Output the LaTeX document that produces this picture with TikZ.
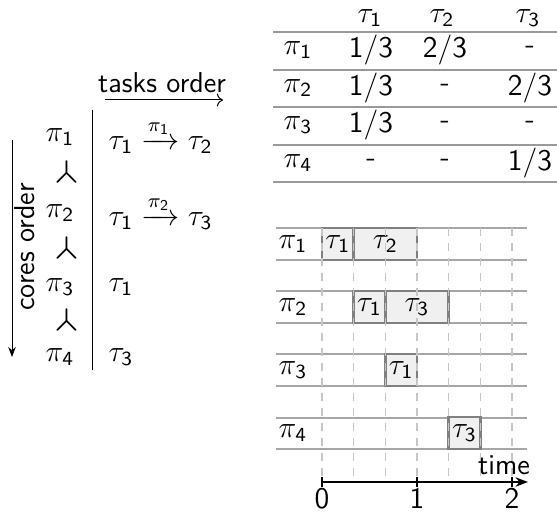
\documentclass[tikz,border=0pt]{standalone}
\usepackage{amsmath}
\usepackage{amssymb}
\usepackage{stmaryrd}
\usetikzlibrary{positioning,arrows.meta}

% sans digits in math
\DeclareSymbolFont{sfdigits}{OT1}{cmss}{m}{n}
\DeclareMathSymbol{0}{\mathalpha}{sfdigits}{`0}
\DeclareMathSymbol{1}{\mathalpha}{sfdigits}{`1}
\DeclareMathSymbol{2}{\mathalpha}{sfdigits}{`2}
\DeclareMathSymbol{3}{\mathalpha}{sfdigits}{`3}
\DeclareMathSymbol{4}{\mathalpha}{sfdigits}{`4}
\DeclareMathSymbol{/}{\mathord}{sfdigits}{`/}

\tikzset{
  lane/.style={draw=gray!70, line width=1pt},
  tabrule/.style={draw=gray!80, line width=0.8pt},
  slot/.style={draw=gray!45, dashed, line width=0.5pt},
  job/.style={draw=gray, fill=gray!12, line width=1pt, minimum height=12.8pt, inner sep=0pt},
  third/.style={minimum width=12.67pt},
  twothird/.style={minimum width=25.33pt},
  prec/.style={scale=1.5},
}

\begin{document}
\begin{tikzpicture}[x=0.4pt,y=-0.4pt,font=\fontsize{11.5}{14}\selectfont\sffamily]
\useasboundingbox (0,0) rectangle (557,512);

% left: orders
\node (tasks) at (162,83) {tasks order};
\coordinate (ts) at (105,100);
\coordinate (te) at (223,100);
\draw[-{To}] (ts) -- (te);
\node[rotate=90] (cores) at (25,247) {cores order};
\coordinate (cs) at (12,140);
\coordinate (ce) at (12,357);
\draw[-{Stealth[length=4pt]}] (cs) -- (ce);
\coordinate (sep1) at (92,110);
\coordinate (sep2) at (92,370);
\draw (sep1) -- (sep2);

\node (c1) at (60,137) {$\pi_1$};
\node[prec] (y1) at (67,172) {$\Yup$};
\node (c2) at (60,213) {$\pi_2$};
\node[prec] (y2) at (67,248) {$\Yup$};
\node (c3) at (60,287) {$\pi_3$};
\node[prec] (y3) at (67,320) {$\Yup$};
\node (c4) at (60,357) {$\pi_4$};

\node[anchor=west,inner sep=0pt] (o1) at (108,137) {$\tau_1 \xrightarrow{\pi_1} \tau_2$};
\node[anchor=west,inner sep=0pt] (o2) at (108,213) {$\tau_1 \xrightarrow{\pi_2} \tau_3$};
\node[anchor=west,inner sep=0pt] (o3) at (108,287) {$\tau_1$};
\node[anchor=west,inner sep=0pt] (o4) at (108,357) {$\tau_3$};

% table of shares
\foreach \y in {32,70,107,145,182}
  \draw[tabrule] (273,\y) -- (557,\y);
\node (h1) at (370,18) {$\tau_1$};
\node (h2) at (442,18) {$\tau_2$};
\node (h3) at (528,18) {$\tau_3$};
\node (r1) at (298,50) {$\pi_1$};
\node (r2) at (298,88) {$\pi_2$};
\node (r3) at (298,125) {$\pi_3$};
\node (r4) at (298,163) {$\pi_4$};
\node (v11) at (371,50) {$1/3$};
\node (v12) at (445,50) {$2/3$};
\node (v13) at (530,50) {-};
\node (v21) at (371,88) {$1/3$};
\node (v22) at (445,88) {-};
\node (v23) at (530,88) {$2/3$};
\node (v31) at (371,125) {$1/3$};
\node (v32) at (445,125) {-};
\node (v33) at (530,125) {-};
\node (v41) at (371,163) {-};
\node (v42) at (445,163) {-};
\node (v43) at (530,163) {$1/3$};

% gantt
\foreach \y in {228,260,291,323,354,386,418,449}
  \draw[lane] (276,\y) -- (527,\y);
\node (g1) at (293,244) {$\pi_1$};
\node (g2) at (293,307) {$\pi_2$};
\node (g3) at (293,370) {$\pi_3$};
\node (g4) at (293,433) {$\pi_4$};

\node[job,third] (j11) at (337.8,244) {$\tau_1$};
\node[job,twothird] (j12) at (385.3,244) {$\tau_2$};
\node[job,third] (j21) at (369.5,307) {$\tau_1$};
\node[job,twothird] (j23) at (417,307) {$\tau_3$};
\node[job,third] (j31) at (401.2,370) {$\tau_1$};
\node[job,third] (j43) at (464.5,433) {$\tau_3$};

\foreach \i in {0,...,6}
  \draw[slot] (322+\i*31.67,228) -- (322+\i*31.67,482);

\coordinate (t0) at (322,482);
\coordinate (tend) at (528,482);
\draw[line width=1pt,-{Stealth[length=5pt]}] (t0) -- (tend);
\foreach \t/\x in {0/322,1/417,2/512} {
  \draw[line width=0.8pt] (\x,477) -- (\x,487);
  \node (n\t) at (\x,499) {$\t$};
}
\node (time) at (504,465) {time};
\end{tikzpicture}
\end{document}
